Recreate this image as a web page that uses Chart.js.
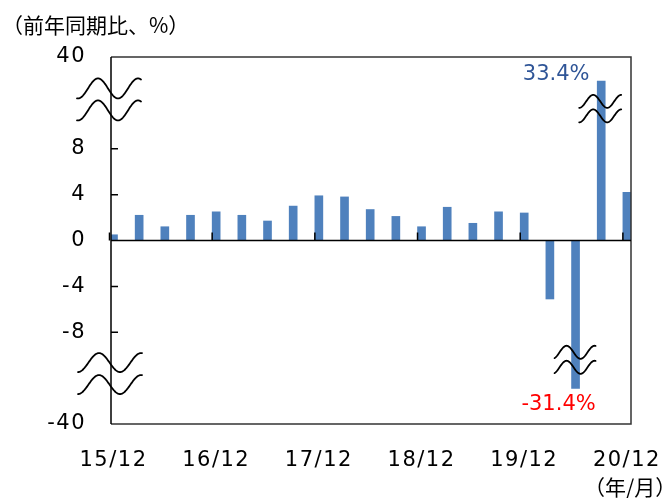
<!DOCTYPE html>
<html>
<head>
<meta charset="utf-8">
<script src="https://cdn.jsdelivr.net/npm/chart.js@4"></script>
<style>
  html, body { margin: 0; padding: 0; background: #fff; }
  #wrap { width: 665px; height: 498px; }
</style>
</head>
<body>
<div id="wrap"><canvas id="growthChart" width="665" height="498"></canvas></div>
<script>
// quarters 15/12 .. 20/12
const quarters = ['15/12','16/3','16/6','16/9','16/12','17/3','17/6','17/9','17/12','18/3','18/6','18/9','18/12',
                  '19/3','19/6','19/9','19/12','20/3','20/6','20/9','20/12'];
// heights as drawn on the broken axis (20/6 and 20/9 are cut, real values in callouts)
const growth = [0.5, 2.2, 1.2, 2.2, 2.5, 2.2, 1.7, 3.0, 3.9, 3.8, 2.7, 2.1, 1.2, 2.9, 1.5, 2.5, 2.4, -5.1, -12.9, 13.9, 4.2];
const callouts = [
    { idx: 19, text: '33.4%', color: '#2F5597' },
    { idx: 18, text: '-31.4%', color: '#FF0000' }
];
const xTickIdx = [0, 4, 8, 12, 16, 20];
const yTicks = [-16, -12, -8, -4, 0, 4, 8, 12, 16];
const yTickLabels = ['-40', '', '-8', '-4', '0', '4', '8', '', '40'];

const tickFont = { family: 'DejaVu Sans', size: 21 };
const cjk = '"Noto Sans CJK JP", "Noto Sans CJK SC", sans-serif';

function wave(ctx, cx, cy, left, right, peak, lambda, amp) {
    ctx.beginPath();
    for (let x = left; x <= right; x += 0.5) {
        const y = cy - amp * Math.cos(2 * Math.PI * (x - peak) / lambda);
        if (x === left) ctx.moveTo(cx + x, y); else ctx.lineTo(cx + x, y);
    }
    ctx.stroke();
}

function breakMark(ctx, cx, cy, gap, w) {
    wave(ctx, cx, cy - gap / 2, w.left, w.right, w.peak, w.lambda, w.amp);
    wave(ctx, cx, cy + gap / 2, w.left, w.right, w.peak, w.lambda, w.amp);
}

const decor = {
    id: 'decor',
    beforeDraw(chart) {
        chart.ctx.letterSpacing = '1.5px';
    },
    afterDraw(chart) {
        const { ctx, chartArea: a, scales: { x, y } } = chart;
        ctx.save();
        ctx.letterSpacing = '0px';
        // frame
        ctx.strokeStyle = '#333';
        ctx.lineWidth = 1.5;
        ctx.beginPath();
        ctx.moveTo(a.left, a.top); ctx.lineTo(a.right, a.top); ctx.lineTo(a.right, a.bottom); ctx.lineTo(a.left, a.bottom);
        ctx.stroke();
        ctx.strokeStyle = '#000';
        ctx.beginPath();
        ctx.moveTo(a.left, a.top); ctx.lineTo(a.left, a.bottom);
        const y0 = y.getPixelForValue(0);
        ctx.moveTo(a.left, y0); ctx.lineTo(a.right, y0);
        ctx.stroke();
        // inner ticks
        ctx.beginPath();
        [-8, -4, 4, 8].forEach(v => {
            const py = y.getPixelForValue(v);
            ctx.moveTo(a.left, py); ctx.lineTo(a.left + 7, py);
        });
        xTickIdx.forEach(i => {
            const px = x.getPixelForValue(i) - 4;
            ctx.moveTo(px, y0); ctx.lineTo(px, y0 - 8);
        });
        ctx.stroke();
        // axis breaks
        ctx.lineWidth = 1.8;
        ctx.lineCap = 'round';
        breakMark(ctx, a.left, y.getPixelForValue(12.3), 22, { left: -34, right: 30, peak: -13, lambda: 40, amp: 10 });
        breakMark(ctx, a.left, y.getPixelForValue(-11.6), 22, { left: -33, right: 31, peak: -12, lambda: 42, amp: 9.5 });
        breakMark(ctx, x.getPixelForValue(19), y.getPixelForValue(11.5), 14.5, { left: -22, right: 20, peak: -8, lambda: 28, amp: 6.5 });
        breakMark(ctx, x.getPixelForValue(18), y.getPixelForValue(-10.4), 15, { left: -21, right: 20, peak: -9, lambda: 28, amp: 6.5 });
        // callouts
        ctx.font = '21px "DejaVu Sans"';
        ctx.textAlign = 'center';
        ctx.textBaseline = 'middle';
        callouts.forEach(c => {
            ctx.fillStyle = c.color;
            const v = growth[c.idx];
            const px = x.getPixelForValue(c.idx) + (v > 0 ? -45 : -17);
            const py = y.getPixelForValue(v > 0 ? 14.5 : -14.3);
            ctx.fillText(c.text, px, py);
        });
        // titles
        ctx.fillStyle = '#000';
        ctx.textAlign = 'left';
        ctx.font = '21px ' + cjk;
        ctx.fillText('（前年同期比、%）', 2, 25);
        ctx.fillText('（年/月）', 584, 487);
        ctx.restore();
    }
};

new Chart(document.getElementById('growthChart'), {
    type: 'bar',
    data: {
        datasets: [{
            data: growth.map((v, i) => ({ x: i, y: v })),
            backgroundColor: '#4F81BD',
            borderWidth: 0,
            barThickness: 8,
            clip: 0
        }]
    },
    options: {
        responsive: false,
        animation: false,
        layout: { padding: { top: 57, right: 34, left: 0, bottom: 0 } },
        plugins: { legend: { display: false }, tooltip: { enabled: false } },
        scales: {
            x: {
                type: 'linear',
                offset: false,
                min: -0.097,
                max: 20.16,
                grid: { display: false },
                border: { display: false },
                afterBuildTicks: s => { s.ticks = xTickIdx.map(v => ({ value: v })); },
                afterFit: s => { s.height = 74; s.paddingLeft = 0; s.paddingRight = 0; },
                ticks: {
                    callback: v => quarters[v],
                    font: tickFont, color: '#000',
                    maxRotation: 0, autoSkip: false, padding: 16
                }
            },
            y: {
                min: -16,
                max: 16,
                grid: { display: false },
                border: { display: false },
                afterBuildTicks: s => { s.ticks = yTicks.map(v => ({ value: v })); },
                afterFit: s => { s.width = 111; s.paddingTop = 0; s.paddingBottom = 0; },
                ticks: {
                    callback: v => yTickLabels[yTicks.indexOf(v)],
                    font: tickFont, color: '#000',
                    autoSkip: false, padding: 17
                }
            }
        }
    },
    plugins: [decor]
});
</script>
</body>
</html>
